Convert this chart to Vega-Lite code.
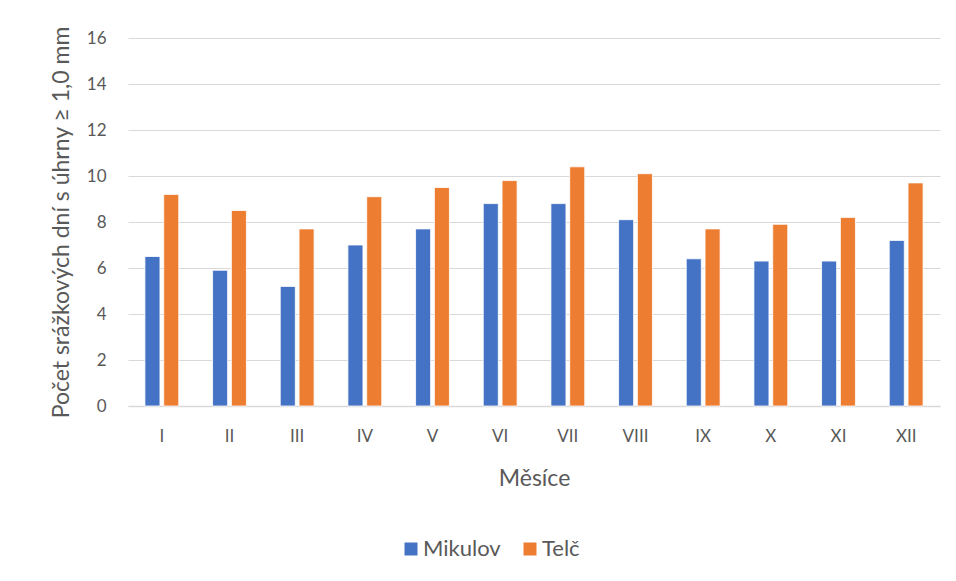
{
  "$schema": "https://vega.github.io/schema/vega-lite/v6.json",
  "width": 812,
  "height": 368,
  "autosize": {"type": "none"},
  "padding": {"left": 128, "top": 38, "right": 16, "bottom": 175},
  "background": "white",
  "data": {
    "values": [
      {"mesic": "I", "stanice": "Mikulov", "dni": 6.5},
      {"mesic": "I", "stanice": "Telč", "dni": 9.2},
      {"mesic": "II", "stanice": "Mikulov", "dni": 5.9},
      {"mesic": "II", "stanice": "Telč", "dni": 8.5},
      {"mesic": "III", "stanice": "Mikulov", "dni": 5.2},
      {"mesic": "III", "stanice": "Telč", "dni": 7.7},
      {"mesic": "IV", "stanice": "Mikulov", "dni": 7.0},
      {"mesic": "IV", "stanice": "Telč", "dni": 9.1},
      {"mesic": "V", "stanice": "Mikulov", "dni": 7.7},
      {"mesic": "V", "stanice": "Telč", "dni": 9.5},
      {"mesic": "VI", "stanice": "Mikulov", "dni": 8.8},
      {"mesic": "VI", "stanice": "Telč", "dni": 9.8},
      {"mesic": "VII", "stanice": "Mikulov", "dni": 8.8},
      {"mesic": "VII", "stanice": "Telč", "dni": 10.4},
      {"mesic": "VIII", "stanice": "Mikulov", "dni": 8.1},
      {"mesic": "VIII", "stanice": "Telč", "dni": 10.1},
      {"mesic": "IX", "stanice": "Mikulov", "dni": 6.4},
      {"mesic": "IX", "stanice": "Telč", "dni": 7.7},
      {"mesic": "X", "stanice": "Mikulov", "dni": 6.3},
      {"mesic": "X", "stanice": "Telč", "dni": 7.9},
      {"mesic": "XI", "stanice": "Mikulov", "dni": 6.3},
      {"mesic": "XI", "stanice": "Telč", "dni": 8.2},
      {"mesic": "XII", "stanice": "Mikulov", "dni": 7.2},
      {"mesic": "XII", "stanice": "Telč", "dni": 9.7}
    ]
  },
  "mark": {"type": "bar", "stroke": "white", "strokeWidth": 0.8},
  "encoding": {
    "x": {
      "field": "mesic",
      "type": "nominal",
      "sort": ["I", "II", "III", "IV", "V", "VI", "VII", "VIII", "IX", "X", "XI", "XII"],
      "scale": {"paddingInner": 0.5, "paddingOuter": 0.25},
      "axis": {
        "title": "Měsíce",
        "labelAngle": 0,
        "ticks": false,
        "domainColor": "#d9d9d9",
        "domainWidth": 1.5,
        "labelPadding": 22,
        "titlePadding": 23,
        "grid": false
      }
    },
    "xOffset": {
      "field": "stanice",
      "type": "nominal",
      "scale": {"paddingInner": 0.2}
    },
    "y": {
      "field": "dni",
      "type": "quantitative",
      "scale": {"domain": [0, 16]},
      "axis": {
        "title": "Počet srážkových dní s úhrny ≥ 1,0 mm",
        "values": [0, 2, 4, 6, 8, 10, 12, 14, 16],
        "domain": false,
        "ticks": false,
        "labelPadding": 22,
        "titlePadding": 13,
        "gridColor": "#d9d9d9",
        "gridWidth": 1
      }
    },
    "color": {
      "field": "stanice",
      "type": "nominal",
      "scale": {"domain": ["Mikulov", "Telč"], "range": ["#4472C4", "#ED7D31"]},
      "legend": {
        "title": null,
        "orient": "none",
        "direction": "horizontal",
        "legendX": 272,
        "legendY": 500,
        "symbolType": "square",
        "symbolSize": 169,
        "symbolStrokeWidth": 0,
        "columnPadding": 18,
        "labelOffset": 1
      }
    }
  },
  "config": {
    "font": "Lato",
    "view": {"stroke": null},
    "axis": {
      "labelFont": "Lato",
      "labelFontSize": 17,
      "labelColor": "#595959",
      "titleFont": "Lato",
      "titleFontSize": 23,
      "titleFontWeight": "normal",
      "titleColor": "#595959"
    },
    "legend": {
      "labelFont": "Lato",
      "labelFontSize": 22,
      "labelColor": "#595959"
    }
  }
}
